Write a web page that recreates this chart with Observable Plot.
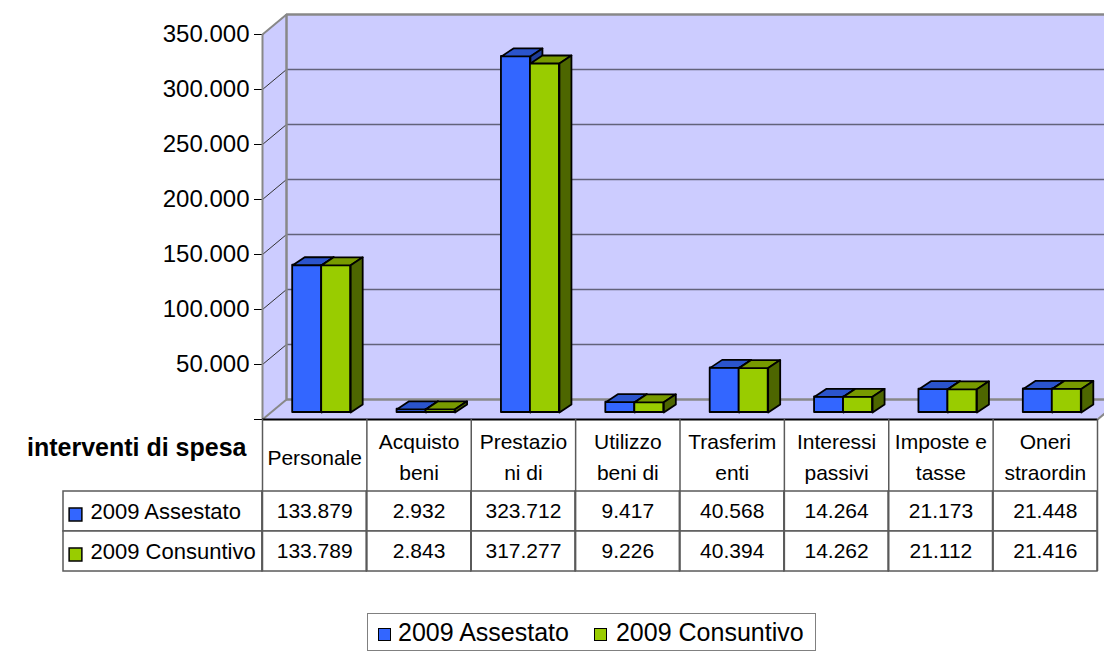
<!DOCTYPE html>
<html><head><meta charset="utf-8">
<script src="https://cdn.jsdelivr.net/npm/d3@7"></script>
<script src="https://cdn.jsdelivr.net/npm/@observablehq/plot@0.6"></script>
<style>
html,body{margin:0;padding:0;background:#fff;}
#root{position:relative;width:1104px;height:653px;overflow:hidden;font-family:"Liberation Sans",Arial,sans-serif;}
#chart{position:absolute;left:0;top:0;}
#table{position:absolute;left:0;top:419px;}
#legend{position:absolute;left:367px;top:613px;width:449px;height:38px;box-sizing:border-box;border:1px solid #808080;display:flex;align-items:center;font-size:25px;color:#000;white-space:nowrap;}
#legend .sw{display:inline-block;width:13px;height:13px;box-sizing:border-box;border:1.5px solid #000;}
</style></head>
<body><div id="root"><div id="chart"></div><div id="table"></div><div id="legend"></div></div>
<script>
// ---- data ----
const categories = ["Personale","Acquisto beni","Prestazioni di","Utilizzo beni di","Trasferimenti","Interessi passivi","Imposte e tasse","Oneri straordin"];
const headerLabels = ["Personale","Acquisto\nbeni","Prestazio\nni di","Utilizzo\nbeni di","Trasferim\nenti","Interessi\npassivi","Imposte e\ntasse","Oneri\nstraordin"];
const seriesNames = ["2009 Assestato","2009 Consuntivo"];
const assestato = [133879,2932,323712,9417,40568,14264,21173,21448];
const consuntivo = [133789,2843,317277,9226,40394,14262,21112,21416];
const yTicks = [0,50000,100000,150000,200000,250000,300000,350000];
const tableTitle = "interventi di spesa";

// ---- styles ----
const frontColors = ["#3366ff","#99cc00"];
const topColors = ["#2b54cc","#789a00"];
const sideColors = ["#1f3d99","#4d6600"];
const wallColor = "#ccccff", gridColor = "#62627a", edgeColor = "#888888", borderColor = "#5a5a5a";
const font = "'Liberation Sans', Arial, sans-serif";

const itLocale = d3.formatLocale({decimal: ",", thousands: ".", grouping: [3], currency: ["€", ""]});
const fmt = itLocale.format(",d");

// ---- layout ----
const W = 1104, H = 421, ML = 262, MR = 7, MT = 34, MB = 2;
const n = categories.length, yMax = yTicks[yTicks.length - 1];
const ux = (W - ML - MR) / n;           // px per category
const uy = (H - MT - MB) / yMax;        // px per value unit
const px2x = p => p / ux, px2y = p => p / uy;
const wallDX = 24, wallDY = 20;         // wall depth in px
const barOX = 7, barOY = 7;             // bar front offset in px
const barW = 29, barDX = 12, barDY = 8; // bar width and depth in px
const DX = px2x(wallDX), DY = px2y(wallDY);

const pts = (arr, id) => arr.map(([x, y]) => ({x, y, id}));
const leftWall = pts([[0,0],[0,yMax],[DX,yMax+DY],[DX,DY],[0,0]], 0);
const floorPoly = pts([[0,0],[n,0],[n+DX,DY],[DX,DY],[0,0]], 0);

const allValues = [assestato, consuntivo];
const w = px2x(barW), bx = px2x(barDX), by = px2y(barDY);
function barSet(values, s) {
  const bars = values.map((v, i) => {
    const x0 = i + 0.5 + (s - 1) * w, x1 = x0 + w;
    return {i, v, x0, x1};
  });
  const tops = bars.flatMap(b => pts([[b.x0,b.v],[b.x1,b.v],[b.x1+bx,b.v+by],[b.x0+bx,b.v+by],[b.x0,b.v]], b.i));
  const sides = bars.flatMap(b => pts([[b.x1,0],[b.x1+bx,by],[b.x1+bx,b.v+by],[b.x1,b.v],[b.x1,0]], b.i));
  const common = {dx: barOX, dy: -barOY, stroke: "#000", strokeWidth: 1.8, strokeLinejoin: "round"};
  return [
    Plot.rect(bars, {x1: "x0", x2: "x1", y1: () => 0, y2: "v", fill: frontColors[s], ...common}),
    Plot.line(tops, {x: "x", y: "y", z: "id", fill: topColors[s], ...common}),
    Plot.line(sides, {x: "x", y: "y", z: "id", fill: sideColors[s], ...common})
  ];
}

const inner = yTicks.slice(1, -1);
const chart = Plot.plot({
  width: W, height: H, marginTop: MT, marginBottom: MB, marginLeft: ML, marginRight: MR,
  style: {fontFamily: font, fontSize: "24px", color: "#000", background: "transparent", overflow: "visible"},
  x: {domain: [0, n], axis: null},
  y: {domain: [0, yMax], ticks: yTicks, tickFormat: d => d === 0 ? "" : fmt(d), tickSize: 8, tickPadding: 5, label: null},
  marks: [
    Plot.rect([0], {x1: () => 0, x2: () => n, y1: () => 0, y2: () => yMax, dx: wallDX, dy: -wallDY, fill: wallColor}),
    Plot.line(leftWall, {x: "x", y: "y", fill: wallColor, stroke: "none"}),
    Plot.line(floorPoly, {x: "x", y: "y", fill: wallColor, stroke: "none"}),
    Plot.ruleY(inner, {x1: () => 0, x2: () => n, dx: wallDX, dy: -wallDY, stroke: gridColor, strokeWidth: 1.6}),
    Plot.link(inner, {x1: () => 0, y1: d => d, x2: () => DX, y2: d => d + DY, stroke: "#333", strokeWidth: 1}),
    Plot.ruleY([yMax, 0], {x1: () => 0, x2: () => n, dx: wallDX, dy: -wallDY, stroke: edgeColor, strokeWidth: 2.5}),
    Plot.ruleX([0], {y1: () => 0, y2: () => yMax, dx: wallDX, dy: -wallDY, stroke: edgeColor, strokeWidth: 2.5}),
    Plot.link([0, yMax], {x1: () => 0, y1: d => d, x2: () => DX, y2: d => d + DY, stroke: edgeColor, strokeWidth: 2}),
    Plot.link([n], {x1: d => d, y1: () => 0, x2: d => d + DX, y2: () => DY, stroke: edgeColor, strokeWidth: 2}),
    Plot.ruleX([0], {y1: () => 0, y2: () => yMax, stroke: edgeColor, strokeWidth: 2}),
    ...barSet(assestato, 0),
    ...barSet(consuntivo, 1),
    Plot.ruleY([0], {x1: () => 0, x2: () => n, stroke: "#000", strokeWidth: 2})
  ]
});
document.getElementById("chart").appendChild(chart);

// ---- data table ----
const cells = seriesNames.flatMap((s, k) => allValues[k].map((v, i) => ({series: s, i, value: v})));
const rowH = 40, headH = 72, labelW = 199;
const table = Plot.plot({
  width: W, height: headH + rowH * seriesNames.length + 1, marginTop: headH, marginBottom: 1, marginLeft: ML, marginRight: MR,
  style: {fontFamily: font, fontSize: "21px", color: "#000", background: "transparent", overflow: "visible"},
  x: {domain: [0, n], axis: null},
  y: {domain: seriesNames, axis: null, padding: 0},
  color: {domain: seriesNames, range: frontColors},
  marks: [
    Plot.barX(seriesNames, {x1: () => 0, x2: () => 0, y: d => d, insetLeft: -labelW, fill: "white", stroke: borderColor, strokeWidth: 1.5}),
    Plot.barX(cells, {x1: d => d.i, x2: d => d.i + 1, y: "series", fill: "white", stroke: borderColor, strokeWidth: 1.5}),
    Plot.ruleX(d3.range(n + 1), {insetTop: -headH, stroke: borderColor, strokeWidth: 1.5}),
    Plot.text(headerLabels, {x: (d, i) => i + 0.5, frameAnchor: "top", lineAnchor: "middle", dy: -37, fontSize: 21, lineHeight: 1.5}),
    Plot.text([tableTitle], {x: () => 0, frameAnchor: "top", lineAnchor: "middle", dy: -44, dx: -16, textAnchor: "end", fontWeight: "bold", fontSize: 25}),
    Plot.dot(seriesNames, {x: () => 0, y: d => d, dx: -187, dy: 3, symbol: "square", r: 7.2, fill: d => d, stroke: "#000", strokeWidth: 1.5}),
    Plot.text(seriesNames, {x: () => 0, y: d => d, dx: -172, textAnchor: "start", fontSize: 22}),
    Plot.text(cells, {x: d => d.i + 0.5, y: "series", text: d => fmt(d.value), fontSize: 21})
  ]
});
document.getElementById("table").appendChild(table);

// ---- legend ----
const legend = document.getElementById("legend");
const gaps = [[10, 7], [25, 9]];
seriesNames.forEach((s, k) => {
  const sw = document.createElement("span");
  sw.className = "sw";
  sw.style.background = frontColors[k];
  sw.style.marginLeft = gaps[k][0] + "px";
  sw.style.marginTop = "5px";
  const t = document.createElement("span");
  t.textContent = s;
  t.style.marginLeft = gaps[k][1] + "px";
  legend.appendChild(sw); legend.appendChild(t);
});
</script>
</body></html>
